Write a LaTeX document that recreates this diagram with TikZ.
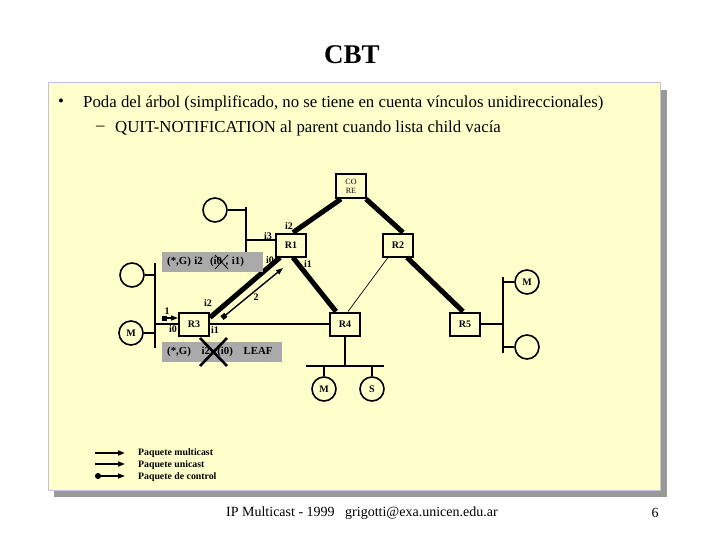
\documentclass[tikz,border=0pt]{standalone}
\usepackage{fontspec}
\setmainfont{Liberation Serif}
\usetikzlibrary{arrows.meta,calc}
\definecolor{paneltan}{RGB}{255,255,204}
\definecolor{shadowgray}{RGB}{153,153,153}
\definecolor{boxgray}{RGB}{170,170,170}
\definecolor{borderlav}{RGB}{195,195,225}
\begin{document}
\begin{tikzpicture}[x=1pt,y=-1pt,
  rt/.style={draw, line width=2pt, minimum width=30pt, minimum height=23pt, inner sep=0pt, font=\bfseries\fontsize{10}{11}\selectfont},
  host/.style={circle, draw, line width=1.6pt, minimum size=24pt, inner sep=0pt, font=\bfseries\fontsize{10}{11}\selectfont},
  tlink/.style={line width=5pt},
  bus/.style={line width=2.2pt},
  lbl/.style={font=\bfseries\fontsize{10}{11}\selectfont, inner sep=0pt},
  graybox/.style={fill=boxgray, inner xsep=5pt, inner ysep=0pt, minimum height=20pt, align=left, font=\bfseries\fontsize{10.8}{12}\selectfont},
  ctrl/.style={line width=1.4pt, {Square[length=5pt,width=5pt]}-{Triangle[length=7pt,width=5pt]}},
  legtxt/.style={anchor=west, inner sep=0pt, font=\bfseries\fontsize{9.8}{11}\selectfont},
  bodytxt/.style={anchor=west, inner sep=0pt, font=\fontsize{16.8}{19}\selectfont}
]
\useasboundingbox (0,0) rectangle (720,540);
\fill[white] (0,0) rectangle (720,540);
\fill[shadowgray] (54,90) rectangle (667,497);
\draw[borderlav, fill=paneltan, line width=1pt] (48,83) rectangle (660,490);

\node[font=\bfseries\fontsize{27}{30}\selectfont] (title) at (352,55) {CBT};
\node[bodytxt] (b1) at (58,103) {•};
\node[bodytxt] (t1) at (83,103) {Poda del árbol (simplificado, no se tiene en cuenta vínculos unidireccionales)};
\node[bodytxt] (b2) at (96,128) {–};
\node[bodytxt] (t2) at (115,128) {QUIT-NOTIFICATION al parent cuando lista child vacía};

% routers
\node[rt, minimum width=30pt, minimum height=24pt, font=\fontsize{8}{9}\selectfont, align=center] (core) at (351,186) {CO\\RE};
\node[rt] (r1) at (291,245) {R1};
\node[rt] (r2) at (398,245) {R2};
\node[rt] (r3) at (194,324) {R3};
\node[rt] (r4) at (345,324) {R4};
\node[rt] (r5) at (465,324) {R5};

% hosts
\node[host] (hA) at (215,210) {};
\node[host] (hB) at (132,275) {};
\node[host] (hM1) at (131,333) {M};
\node[host] (hM2) at (324,389) {M};
\node[host] (hS) at (372,389) {S};
\node[host] (hM3) at (527,282) {M};
\node[host] (hE) at (527,347) {};

% tree links
\draw[tlink] ([xshift=6pt]core.south west) -- ([xshift=2pt]r1.north);
\draw[tlink] ([xshift=-1pt]core.south east) -- ([xshift=5pt]r2.north);
\draw[tlink] ([xshift=2pt]r1.south) -- ([xshift=7pt]r4.north west);
\draw[tlink] ([xshift=9pt]r2.south) -- ([xshift=-2pt]r5.north);
\draw[line width=0.7pt] ([xshift=-10pt]r2.south) -- ([xshift=3pt]r4.north);
\draw[tlink] ([xshift=5pt]r1.south west) -- ([yshift=-6pt]r3.north east);

% buses
\coordinate (busTt) at (246,207);
\coordinate (busTb) at (246,258);
\draw[bus] (busTt) -- (busTb);
\draw[bus] (hA.east) -- (246,210);
\draw[bus] (246,240) -- ([yshift=5pt]r1.west);

\coordinate (busLt) at (155,263);
\coordinate (busLb) at (155,348);
\draw[bus] (busLt) -- (busLb);
\draw[bus] (hB.east) -- (155,275);
\draw[bus] (hM1.east) -- (155,333);
\draw[bus] (155,324) -- (r3.west);
\draw[bus] (r3.east) -- (r4.west);

\coordinate (busBl) at (306,366);
\coordinate (busBr) at (384,366);
\draw[bus] (r4.south) -- (345,366);
\draw[bus] (busBl) -- (busBr);
\draw[bus] (324,366) -- (hM2.north);
\draw[bus] (372,366) -- (hS.north);

\coordinate (busRt) at (503,277);
\coordinate (busRb) at (503,353);
\draw[bus] (r5.east) -- (503,324);
\draw[bus] (busRt) -- (busRb);
\draw[bus] (503,282) -- (hM3.west);
\draw[bus] (503,347) -- (hE.west);

% gray boxes
\node[graybox, minimum width=101pt, text width=91pt, anchor=west] (g1) at (162,262) {(*,G) i2\ \ (i0 , i1)};
\draw[line width=0.8pt] (215,255) -- (228,269) (228,255) -- (215,269);
\node[graybox, minimum width=120pt, text width=110pt, anchor=west] (g2) at (162,352) {(*,G)\ \ \ i2\ \ (i0)\ \ \ LEAF};
\draw[line width=2.6pt] (200,338) -- (227,366) (227,338) -- (200,366);

% control arrows
\coordinate (a1s) at (162,318);
\draw[ctrl] (a1s) -- ([yshift=6pt]r3.west);
\coordinate (a2s) at (222,318);
\coordinate (a2e) at (283,268);
\draw[ctrl] (a2s) -- (a2e);

% interface labels
\node[lbl] (l1) at (289,226) {i2};
\node[lbl] (l2) at (268,236) {i3};
\node[lbl] (l3) at (270,260) {i0};
\node[lbl] (l4) at (308,264) {i1};
\node[lbl] (l5) at (208,303) {i2};
\node[lbl] (l6) at (167,311) {1};
\node[lbl] (l7) at (173,329) {i0};
\node[lbl] (l8) at (215,330) {i1};
\node[lbl] (l9) at (256,297) {2};

% legend
\coordinate (m1s) at (95,453); \coordinate (m1e) at (125,453);
\coordinate (m2s) at (95,464); \coordinate (m2e) at (125,464);
\coordinate (m3s) at (95,476); \coordinate (m3e) at (125,476);
\draw[line width=2pt, -{Triangle[length=7pt,width=5pt]}] (m1s) -- (m1e);
\draw[line width=1.5pt, -{Triangle[length=7pt,width=5pt]}] (m2s) -- (m2e);
\draw[line width=1.5pt, {Circle[length=6pt,width=6pt]}-{Triangle[length=7pt,width=5pt]}] (m3s) -- (m3e);
\node[legtxt] (lg1) at (138,453) {Paquete multicast};
\node[legtxt] (lg2) at (138,465) {Paquete unicast};
\node[legtxt] (lg3) at (138,477) {Paquete de control};

% footer
\node[anchor=west, inner sep=0pt, font=\fontsize{14}{17}\selectfont] (f1) at (226,513) {IP Multicast - 1999\ \ \ grigotti@exa.unicen.edu.ar};
\node[inner sep=0pt, font=\fontsize{14}{17}\selectfont] (f2) at (655,513) {6};
\end{tikzpicture}
\end{document}
